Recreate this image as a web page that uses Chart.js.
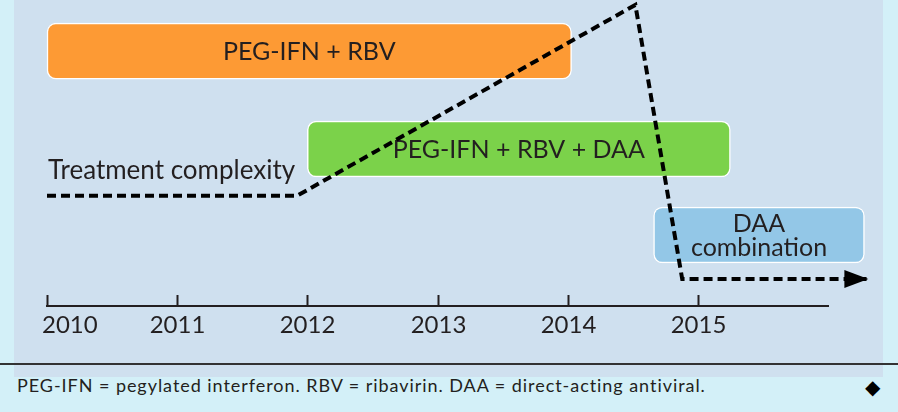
<!DOCTYPE html>
<html><head><meta charset="utf-8">
<script src="https://cdn.jsdelivr.net/npm/chart.js@4"></script>
<style>
html,body{margin:0;padding:0;}
body{width:898px;height:412px;background:#d3f0f8;position:relative;overflow:hidden;font-family:Lato,sans-serif;}
#panel{position:absolute;left:14px;top:0;width:869px;height:377px;background:#cfe0ef;}
#rule{position:absolute;left:0;top:363px;width:898px;height:2px;background:#333;}
#foot{position:absolute;left:17px;top:376px;font-size:18px;line-height:18px;letter-spacing:0.95px;color:#231f20;white-space:nowrap;}
#diamond{position:absolute;left:865px;top:377px;font-family:"DejaVu Sans";font-size:20px;line-height:20px;color:#000;}
#wrap{position:absolute;left:0;top:0;width:898px;height:412px;}
</style></head><body>
<div id="panel"></div>
<div id="rule"></div>
<div id="foot">PEG-IFN = pegylated interferon. RBV = ribavirin. DAA = direct-acting antiviral.</div>
<div id="diamond">◆</div>
<div id="wrap"><canvas id="c" width="898" height="412"></canvas></div>
<script>
const years = [2010, 2011, 2012, 2013, 2014, 2015];
const therapies = ['PEG-IFN + RBV', 'PEG-IFN + RBV + DAA', ['DAA', 'combination']];
const therapyStart = [2010, 2012, 2014.66];
const therapyEnd = [2014.03, 2015.25, 2016.28];
const therapyRow = [8.33, 5.13, 2.32];
const therapyColors = ['#fd9a34', '#7bd24a', '#93c7e7'];
const complexityYears = [2010, 2011.92, 2014.52, 2014.88, 2016.31];
const complexityLevel = [3.6, 3.6, 9.84, 0.88, 0.88];
const seriesLabel = 'Treatment complexity';

const INK = '#231f20';

const decor = {
  id: 'decor',
  afterDatasetDraw(chart, args) {
    if (args.index !== 0) return;
    const ctx = chart.ctx;
    const meta = chart.getDatasetMeta(0);
    ctx.save();
    ctx.fillStyle = INK;
    ctx.font = '25px Lato';
    ctx.textAlign = 'center';
    ctx.textBaseline = 'alphabetic';
    meta.data.forEach((bar, i) => {
      const p = bar.getProps(['x', 'base', 'y'], true);
      const cx = (p.x + p.base) / 2;
      const lines = [].concat(therapies[i]);
      const lh = 24, cap = 18;
      const first = p.y - ((lines.length - 1) * lh + cap) / 2 + cap;
      lines.forEach((t, j) => ctx.fillText(t, cx, first + j * lh));
    });
    ctx.restore();
  },
  afterDraw(chart) {
    const ctx = chart.ctx;
    const xs = chart.scales.x;
    ctx.save();
    // upward tick marks and year labels
    ctx.strokeStyle = INK;
    ctx.lineWidth = 2;
    ctx.fillStyle = INK;
    ctx.font = '24px Lato';
    ctx.textAlign = 'left';
    ctx.textBaseline = 'alphabetic';
    xs.ticks.forEach(t => {
      const px = Math.round(xs.getPixelForValue(t.value)) + 0.5;
      ctx.beginPath();
      ctx.moveTo(px, xs.top);
      ctx.lineTo(px, xs.top - 11);
      ctx.stroke();
      const label = String(t.value);
      const w = ctx.measureText(label).width;
      const left = Math.max(px - w / 2, xs.left - 5);
      ctx.fillText(label, left, xs.top + 27);
    });
    // arrow head and series label
    const lm = chart.getDatasetMeta(1);
    const pts = lm.data;
    const tip = pts[pts.length - 1].getProps(['x', 'y'], true);
    ctx.fillStyle = '#000';
    ctx.beginPath();
    ctx.moveTo(tip.x, tip.y);
    ctx.lineTo(tip.x - 24, tip.y - 9);
    ctx.lineTo(tip.x - 24, tip.y + 9);
    ctx.closePath();
    ctx.fill();
    const first = pts[0].getProps(['x', 'y'], true);
    ctx.fillStyle = INK;
    ctx.font = '26px Lato';
    ctx.fillText(seriesLabel, first.x + 1, first.y - 17);
    ctx.restore();
  }
};

new Chart(document.getElementById('c'), {
  type: 'bar',
  data: {
    datasets: [
      {
        type: 'bar',
        indexAxis: 'y',
        data: therapies.map((t, i) => ({ x: [therapyStart[i], therapyEnd[i]], y: therapyRow[i] })),
        backgroundColor: therapyColors,
        borderColor: '#ffffff',
        borderWidth: 1.5,
        borderRadius: 9,
        borderSkipped: false,
        barThickness: 56,
        clip: false,
        order: 1
      },
      {
        type: 'line',
        label: seriesLabel,
        data: complexityYears.map((x, i) => ({ x: x, y: complexityLevel[i] })),
        borderColor: '#000',
        borderWidth: 4,
        borderDash: [9, 5],
        borderJoinStyle: 'miter',
        borderCapStyle: 'butt',
        pointRadius: 0,
        fill: false,
        tension: 0,
        clip: false,
        order: 0
      }
    ]
  },
  options: {
    responsive: false,
    animation: false,
    events: [],
    layout: { padding: { left: 47, right: 70, top: 0, bottom: 106 } },
    plugins: { legend: { display: false }, tooltip: { enabled: false } },
    scales: {
      x: {
        type: 'linear',
        position: 'bottom',
        min: 2010,
        max: 2016,
        offset: false,
        afterBuildTicks: s => { s.ticks = years.map(v => ({ value: v })); },
        ticks: { display: false },
        grid: { display: true, drawOnChartArea: false, drawTicks: false, offset: false },
        border: { display: true, color: INK, width: 2 }
      },
      y: {
        type: 'linear',
        min: 0,
        max: 10,
        offset: false,
        display: false,
        grid: { offset: false }
      }
    }
  },
  plugins: [decor]
});
</script>
</body></html>
